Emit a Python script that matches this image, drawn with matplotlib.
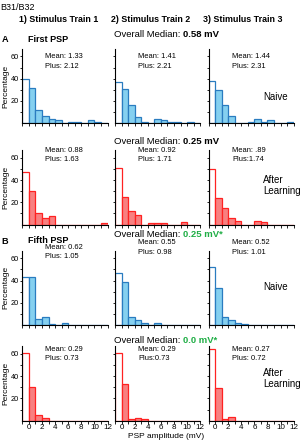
import matplotlib
matplotlib.use("Agg")
import matplotlib.pyplot as plt
import numpy as np

plt.rcParams['font.family'] = ['Liberation Sans', 'DejaVu Sans']

# bins: first value is the "zero" bin drawn from -1 to 0, then 0-1, 1-2, ... 11-12
bin_left = np.arange(-1, 12)

naive_first = [
    [40, 32, 12, 6.5, 4, 2.5, 0, 1.5, 1.5, 0, 3, 1.5, 0],
    [37, 31, 16.5, 5.5, 1.5, 0, 3.5, 2.5, 1.5, 1.5, 0, 1.5, 0],
    [38, 30, 16.5, 6.5, 0, 0, 1, 3.5, 1.5, 2.5, 0, 0, 1.5],
]
learned_first = [
    [47.5, 30, 10, 6.2, 7.5, 0, 0, 0, 0, 0, 0, 0, 1.5],
    [50.5, 24.5, 12.5, 8.6, 0, 1.5, 1.5, 1.5, 0, 0, 2, 0, 0],
    [50, 24, 15, 6, 3.2, 0, 0, 3.2, 2, 0, 0, 0, 0],
]
naive_fifth = [
    [43, 43, 5, 7.5, 1, 0, 1.5, 0, 0, 0, 0, 0, 0],
    [47, 38.3, 7.5, 4.5, 2, 0, 1.5, 0, 0, 0, 0, 0, 0],
    [52.3, 33, 7.5, 4.5, 2, 1, 0, 0, 0, 0, 0, 0, 0],
]
learned_fifth = [
    [61.3, 30, 5, 2.7, 0, 0, 0, 0, 0, 0, 0, 0, 0],
    [61.3, 32.6, 1.5, 2.5, 1.5, 0, 0, 0, 0, 0, 0, 0, 0],
    [64.3, 29.3, 1.5, 3, 0, 0, 0, 0, 0, 0, 0, 0, 0],
]

means = [
    [("Mean: 1.33", "Plus: 2.12"), ("Mean: 1.41", "Plus: 2.21"), ("Mean: 1.44", "Plus: 2.31")],
    [("Mean: 0.88", "Plus: 1.63"), ("Mean: 0.92", "Plus: 1.71"), ("Mean: .89", "Plus:1.74")],
    [("Mean: 0.62", "Plus: 1.05"), ("Mean: 0.55", "Plus: 0.98"), ("Mean: 0.52", "Plus: 1.01")],
    [("Mean: 0.29", "Plus: 0.73"), ("Mean: 0.29", "Plus:0.73"), ("Mean: 0.27", "Plus: 0.72")],
]
medians = ["0.58 mV", "0.25 mV", "0.25 mV*", "0.0 mV*"]
median_colors = ["black", "black", "#1fae45", "#1fae45"]
columns = ["1) Stimulus Train 1", "2) Stimulus Train 2", "3) Stimulus Train 3"]

rows = [naive_first, learned_first, naive_fifth, learned_fifth]
blue = ("#85d0f0", "#2a7cc0")
red = ("#f88080", "#ff2222")
row_colors = [blue, red, blue, red]

W, H = 301, 440
fig = plt.figure(figsize=(W / 100, H / 100), dpi=100)


def px(x, y):
    return x / W, 1 - y / H


col_left = [22.3, 115, 208.5]
row_base = [123.2, 224.6, 325, 420.7]
ax_w = 85.2
ax_h = 74.5

for r, data in enumerate(rows):
    fill, edge = row_colors[r]
    for c in range(3):
        x0, y0 = px(col_left[c], row_base[r])
        ax = fig.add_axes([x0, y0, ax_w / W, ax_h / H])
        vals = data[c]
        ax.bar(bin_left[:1], vals[:1], width=1, align='edge', color='white',
               edgecolor=edge, linewidth=0.9)
        ax.bar(bin_left[1:], vals[1:], width=1, align='edge', color=fill,
               edgecolor=edge, linewidth=0.9)
        ax.set_xlim(-1, 12)
        ax.set_ylim(0, 67)
        for s in ['top', 'right']:
            ax.spines[s].set_visible(False)
        for s in ['left', 'bottom']:
            ax.spines[s].set_linewidth(0.8)
        ax.set_xticks(range(0, 13, 2))
        ax.set_xticks(range(-1, 13), minor=True)
        ax.set_yticks([20, 40, 60])
        ax.set_yticks([10, 30, 50], minor=True)
        ax.tick_params(which='both', length=1.8, width=0.6, pad=0.8, labelsize=5.3)
        if c > 0:
            ax.set_yticklabels([])
        else:
            ax.set_ylabel("Percentage", fontsize=6, labelpad=1)
        if r < 3:
            ax.set_xticklabels([])
        else:
            ax.tick_params(axis='x', labelsize=5.8, pad=0.5)

# header texts
fig.text(*px(0.5, 7), "B31/B32", fontsize=6.5, va='center', ha='left')
col_cx = [59, 151, 243]
for c in range(3):
    fig.text(*px(col_cx[c], 19.5), columns[c], fontsize=6.4, fontweight='bold',
             ha='center', va='center')
fig.text(*px(1.5, 39.5), "A", fontsize=6.6, fontweight='bold', va='center')
fig.text(*px(28, 39.5), "First PSP", fontsize=6.5, fontweight='bold', va='center')
fig.text(*px(1.5, 241), "B", fontsize=6.6, fontweight='bold', va='center')
fig.text(*px(28, 240.5), "Fifth PSP", fontsize=6.5, fontweight='bold', va='center')

median_y = [34.3, 141, 234.3, 340.7]
for r in range(4):
    fig.text(*px(180.5, median_y[r]), "Overall Median:", fontsize=6.8, ha='right', va='center')
    fig.text(*px(183, median_y[r]), medians[r], fontsize=6.8, fontweight='bold',
             color=median_colors[r], ha='left', va='center')

mean_pos = [
    [(45, 56.7), (138.3, 56.7), (232.3, 56.7)],
    [(45, 150), (137.7, 150), (232.3, 150)],
    [(45, 247.5), (138, 242.7), (232, 242.7)],
    [(45, 349.3), (138, 349.3), (232, 349.3)],
]
for r in range(4):
    for c in range(3):
        x, y = mean_pos[r][c]
        m, p = means[r][c]
        fig.text(*px(x, y), m, fontsize=5.4, va='center', ha='left')
        fig.text(*px(x, y + 9.5), p, fontsize=5.4, va='center', ha='left')

fig.text(*px(263, 96.7), "Naive", fontsize=7, va='center', ha='left')
fig.text(*px(263, 287.3), "Naive", fontsize=7, va='center', ha='left')
fig.text(*px(263, 180), "After", fontsize=7, va='center', ha='left')
fig.text(*px(263, 191), "Learning", fontsize=7, va='center', ha='left')
fig.text(*px(263, 372.7), "After", fontsize=7, va='center', ha='left')
fig.text(*px(263, 384), "Learning", fontsize=7, va='center', ha='left')

fig.text(*px(165.8, 436), "PSP amplitude (mV)", fontsize=6, ha='center', va='center')

fig.savefig("out.png", dpi=100)
